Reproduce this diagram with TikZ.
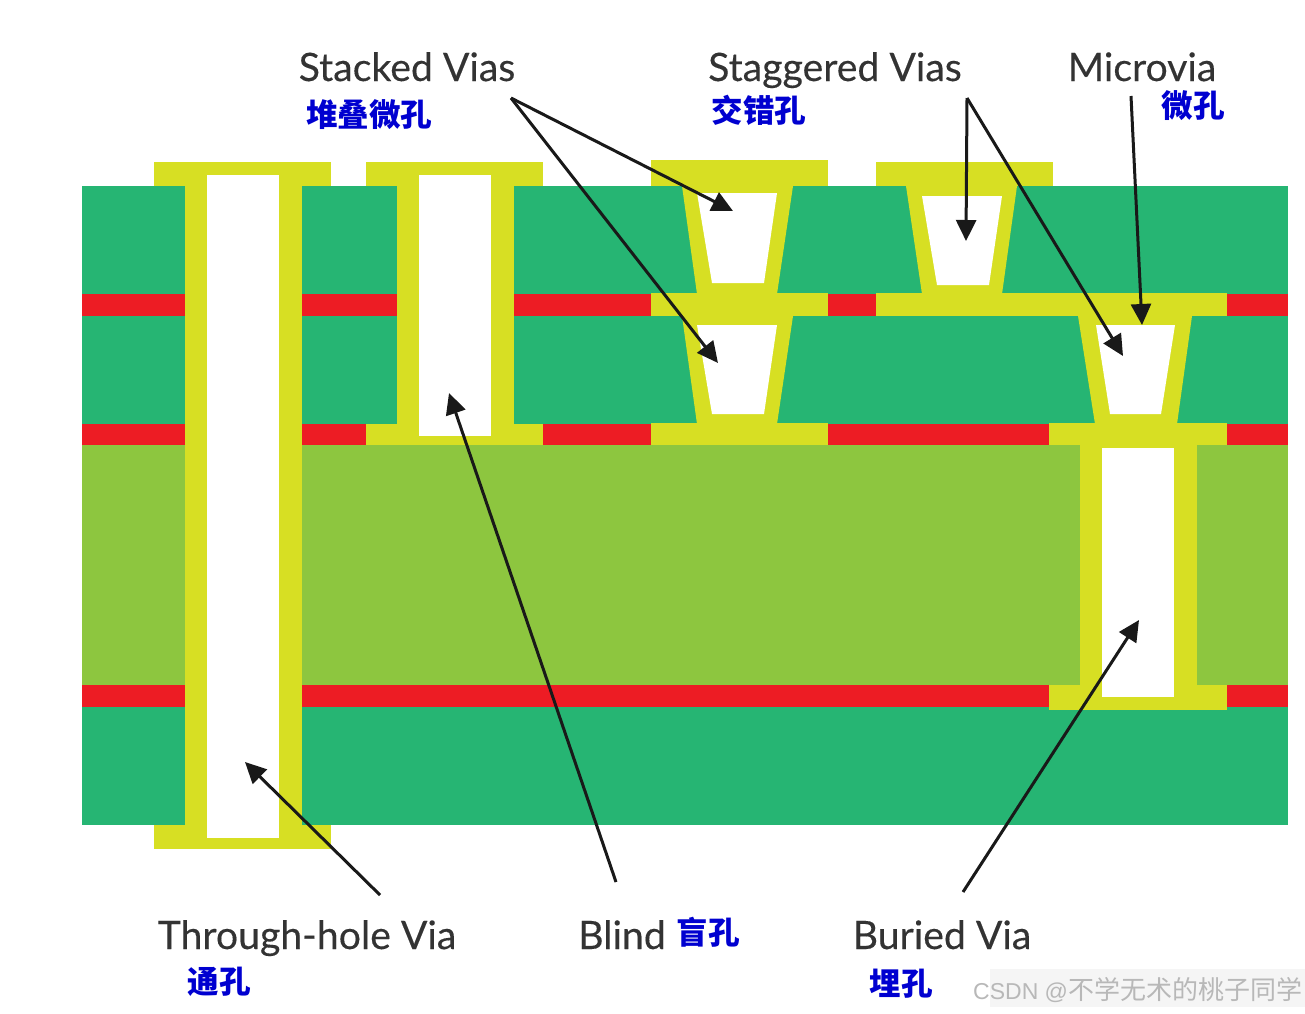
\documentclass[tikz,border=0pt]{standalone}
\usepackage{xcolor}
\usepackage{fontspec}
\setmainfont{Lato}[FakeBold=0.25]
\newfontfamily\cjkfont{Noto Sans CJK SC}
\newfontfamily\markfont{Liberation Sans}
\usepackage{tikz}
\usetikzlibrary{arrows.meta}
\definecolor{boardgreen}{HTML}{26B573}
\definecolor{coregreen}{HTML}{8DC63F}
\definecolor{copperred}{HTML}{ED1C24}
\definecolor{plateyellow}{HTML}{D7DF23}
\definecolor{cnblue}{HTML}{0000D0}

\begin{document}
\begin{tikzpicture}[
            x=1pt, y=-1pt,
            enlabel/.style={inner sep=0pt, anchor=base, text=black!80, font=\fontsize{39.2}{39.2}\selectfont},
            cnlabel/.style={inner sep=0pt, text=cnblue, font=\cjkfont\bfseries\fontsize{31.5}{31.5}\selectfont},
            pointer/.style={draw=black!90, line width=3pt, -{Triangle[length=21pt, width=20pt]}}
        ]
            \useasboundingbox (0,0) rectangle (1305,1013);
            \fill[white] (0,0) rectangle (1305,1013);
            \fill[boardgreen] (82,186) rectangle (1288,445);
            \fill[boardgreen] (82,685) rectangle (1288,825);
            \fill[coregreen] (82,445) rectangle (1288,685);
            \foreach \ya/\yb in {294/316, 424/445, 685/707}
                \fill[copperred] (82,\ya) rectangle (1288,\yb);
            % through-hole and blind barrels
            \fill[plateyellow] (154,162) rectangle (331,186);
            \fill[plateyellow] (154,825) rectangle (331,849);
            \fill[plateyellow] (185,162) rectangle (302,849);
            \fill[white] (207,175) rectangle (279,838);
            \fill[plateyellow] (366,162) rectangle (543,186);
            \fill[plateyellow] (366,424) rectangle (543,445);
            \fill[plateyellow] (397,162) rectangle (514,445);
            \fill[white] (419,175) rectangle (491,436);
            % pads of the microvias
            \fill[plateyellow] (651,160) rectangle (828,186);
            \fill[plateyellow] (651,293) rectangle (828,316);
            \fill[plateyellow] (651,423) rectangle (828,445);
            \fill[plateyellow] (876,162) rectangle (1053,186);
            \fill[plateyellow] (876,293) rectangle (1227,316);
            \fill[plateyellow] (1049,423) rectangle (1227,445);
            \fill[plateyellow] (682,186) -- (793,186) -- (777,294) -- (697,294) -- cycle;
            \fill[plateyellow] (682,316) -- (793,316) -- (777,424) -- (697,424) -- cycle;
            \fill[plateyellow] (906,186) -- (1017,186) -- (1002,294) -- (922,294) -- cycle;
            \fill[plateyellow] (1078,316) -- (1192,316) -- (1177,424) -- (1095,424) -- cycle;
            \fill[white] (697,193) -- (777,193) -- (764,283) -- (712,283) -- cycle;
            \fill[white] (697,325) -- (777,325) -- (764,414) -- (712,414) -- cycle;
            \fill[white] (922,196) -- (1002,196) -- (989,285) -- (937,285) -- cycle;
            \fill[white] (1096,325) -- (1175,325) -- (1161,414) -- (1110,414) -- cycle;
            % buried barrel
            \fill[plateyellow] (1049,685) rectangle (1227,710);
            \fill[plateyellow] (1080,445) rectangle (1197,710);
            \fill[white] (1102,448) rectangle (1174,697);
            % watermark
            \fill[black!4] (990,969) rectangle (1305,1007);
            \node[anchor=west, inner sep=0pt, text=black!28, font=\fontsize{26}{26}\selectfont] (mark) at (973,990)
                {\markfont\fontsize{23}{26}\selectfont CSDN @\cjkfont\fontsize{26}{26}\selectfont 不学无术的桃子同学};
            % labels
            \node[enlabel] (stacked) at (407,81) {Stacked Vias};
            \node[enlabel] (staggered) at (835,81) {Staggered Vias};
            \node[enlabel] (microvia) at (1142,81) {Microvia};
            \node[enlabel] (through) at (307,949) {Through-hole Via};
            \node[enlabel] (blind) at (622,949) {Blind};
            \node[enlabel] (buried) at (942,949) {Buried Via};
            \node[cnlabel] (stackedcn) at (369,115) {堆叠微孔};
            \node[cnlabel] (staggeredcn) at (759,110) {交错孔};
            \node[cnlabel] (microviacn) at (1193,106) {微孔};
            \node[cnlabel] (throughcn) at (219,982) {通孔};
            \node[cnlabel] (blindcn) at (708,932) {盲孔};
            \node[cnlabel] (buriedcn) at (901,984) {埋孔};
            % arrow ends
            \coordinate (stackedfrom) at (511,98);
            \coordinate (stackedtop) at (733,211);
            \coordinate (stackedlow) at (718,363);
            \coordinate (staggeredfrom) at (967,98);
            \coordinate (staggeredtop) at (966,241);
            \coordinate (staggeredlow) at (1123,356);
            \coordinate (microfrom) at (1131,96);
            \coordinate (microtip) at (1142,325);
            \coordinate (throughfrom) at (380,895);
            \coordinate (throughtip) at (245,762);
            \coordinate (blindfrom) at (616,882);
            \coordinate (blindtip) at (449,393);
            \coordinate (buriedfrom) at (963,892);
            \coordinate (buriedtip) at (1139,620);
            \draw[pointer] (stackedfrom) -- (stackedtop);
            \draw[pointer] (stackedfrom) -- (stackedlow);
            \draw[pointer] (staggeredfrom) -- (staggeredtop);
            \draw[pointer] (staggeredfrom) -- (staggeredlow);
            \draw[pointer] (microfrom) -- (microtip);
            \draw[pointer] (throughfrom) -- (throughtip);
            \draw[pointer] (blindfrom) -- (blindtip);
            \draw[pointer] (buriedfrom) -- (buriedtip);
        \end{tikzpicture}
\end{document}
